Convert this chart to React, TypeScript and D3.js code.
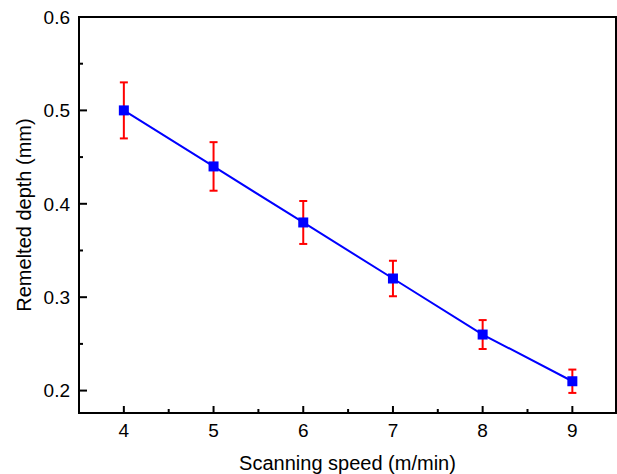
import React from "react";
import * as d3 from "d3";

// speed (m/min), depth (mm), error (mm)
const speeds = [4, 5, 6, 7, 8, 9];
const depths = [0.5, 0.44, 0.38, 0.32, 0.26, 0.21];
const errors = [0.03, 0.026, 0.023, 0.019, 0.0155, 0.0125];

const xTicks = [4, 5, 6, 7, 8, 9];
const yTicks = [0.2, 0.3, 0.4, 0.5, 0.6];

const W = 617,
  H = 474;
const left = 79,
  right = 616,
  top = 17,
  bottom = 413;

const App = () => {
  const x = d3.scaleLinear().domain([3.5, 9.5]).range([left, left + 6 * 89.7]);
  const y = d3.scaleLinear().domain([0.176, 0.6]).range([bottom, top]);

  const line = d3
    .line<number>()
    .x((d, i) => x(speeds[i]))
    .y((d) => y(d));

  const xMinor = d3.range(3.5, 9.6, 0.5).filter((v) => !xTicks.includes(v));
  const yMinor = [0.25, 0.35, 0.45, 0.55];

  const font = "Arial, 'Liberation Sans', sans-serif";

  return (
    <svg
      width={W}
      height={H}
      style={{ position: "absolute", left: 0, top: 0, background: "#fff" }}
      fontFamily={font}
    >
      {/* frame */}
      <rect
        x={left}
        y={top}
        width={right - left}
        height={bottom - top}
        fill="none"
        stroke="#000"
        strokeWidth={2}
      />

      {/* x ticks */}
      {xTicks.map((t) => (
        <g key={"x" + t}>
          <line x1={x(t)} x2={x(t)} y1={bottom} y2={bottom - 7} stroke="#000" strokeWidth={2} />
          <text x={x(t)} y={437} textAnchor="middle" fontSize={19}>
            {t}
          </text>
        </g>
      ))}
      {xMinor.map((t) => (
        <line key={"xm" + t} x1={x(t)} x2={x(t)} y1={bottom} y2={bottom - 4} stroke="#000" strokeWidth={2} />
      ))}

      {/* y ticks */}
      {yTicks.map((t) => (
        <g key={"y" + t}>
          <line x1={left} x2={left + 8} y1={y(t)} y2={y(t)} stroke="#000" strokeWidth={2} />
          <text x={70} y={y(t) + 6.8} textAnchor="end" fontSize={19}>
            {t.toFixed(1)}
          </text>
        </g>
      ))}
      {yMinor.map((t) => (
        <line key={"ym" + t} x1={left} x2={left + 4} y1={y(t)} y2={y(t)} stroke="#000" strokeWidth={2} />
      ))}

      {/* axis titles */}
      <text x={(left + right) / 2} y={470} textAnchor="middle" fontSize={20}>
        Scanning speed (m/min)
      </text>
      <text
        transform={`translate(31,${(top + bottom) / 2}) rotate(-90)`}
        textAnchor="middle"
        fontSize={20}
      >
        Remelted depth (mm)
      </text>

      {/* line */}
      <path d={line(depths) ?? ""} fill="none" stroke="#0000ff" strokeWidth={2} />

      {/* error bars */}
      {speeds.map((s, i) => {
        const cx = x(s);
        const y1 = y(depths[i] + errors[i]);
        const y2 = y(depths[i] - errors[i]);
        return (
          <g key={"e" + s} stroke="#ff0000" strokeWidth={2}>
            <line x1={cx} x2={cx} y1={y1} y2={y2} />
            <line x1={cx - 4} x2={cx + 4} y1={y1} y2={y1} />
            <line x1={cx - 4} x2={cx + 4} y1={y2} y2={y2} />
          </g>
        );
      })}

      {/* markers */}
      {speeds.map((s, i) => (
        <rect
          key={"m" + s}
          x={x(s) - 5}
          y={y(depths[i]) - 5}
          width={10}
          height={10}
          fill="#0000ff"
        />
      ))}
    </svg>
  );
};

export default App;
